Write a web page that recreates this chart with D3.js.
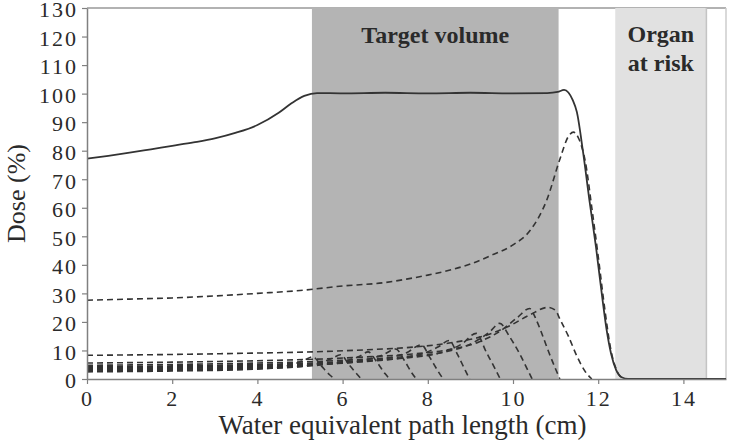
<!DOCTYPE html>
<html>
<head>
<meta charset="utf-8">
<script src="https://d3js.org/d3.v7.min.js"></script>
<style>
    body { margin: 0; background: #fff; }
</style>
</head>
<body>
<svg id="chart" width="734" height="445"></svg>
<script>
    // axis ticks
    const xTicks = [0, 2, 4, 6, 8, 10, 12, 14];
    const yTicks = [0, 10, 20, 30, 40, 50, 60, 70, 80, 90, 100, 110, 120, 130];

    // shaded regions (cm)
    const bandNames = ["Target volume", "Organ at risk"];
    const bandStart = [5.28, 12.4];
    const bandEnd = [11.07, 14.54];

    // total spread-out dose (solid)
    const sobp = [[0,77.2],[0.5,78.2],[1,79.3],[1.5,80.5],[2,81.7],[2.5,82.9],[3,84.3],[3.5,86.3],[4,89],
        [4.5,93.3],[4.8,96.6],[5.1,99.2],[5.4,100.2],[6,100.1],[7,100.3],[8,100.1],[9,100.3],[10,100.1],
        [10.8,100.2],[11.05,100.6],[11.2,101.3],[11.3,100.4],[11.4,97.8],[11.5,93.5],[11.64,80],[11.8,62],
        [11.95,46],[12.1,28],[12.2,17],[12.3,9],[12.42,3.2],[12.55,0.6],[12.7,0],[15,0]];

    // individual pristine peaks (dashed), deepest first
    const peak1 = [[0,27.6],[1,28],[2,28.4],[3,29.1],[4,30],[5,31],[6,32.6],[7,33.8],[7.5,35],[8,36.4],
        [8.5,38.1],[9,40.3],[9.5,43.4],[10,47],[10.4,52],[10.8,63],[11.1,77],[11.3,85],[11.42,86.5],
        [11.55,84],[11.7,76],[11.85,60],[12,43],[12.15,25],[12.3,10],[12.45,2.5],[12.6,0]];
    const peak2 = [[0,8.3],[2,8.6],[4,9.1],[5.3,9.5],[6.5,10.2],[7.5,11],[8.5,12.6],[9.3,15],[9.9,18.5],
        [10.4,22.5],[10.82,25.1],[11,24],[11.1,21],[11.3,15],[11.5,8],[11.7,2.5],[11.85,0]];
    const peak3 = [[0,5.6],[2,5.9],[4,6.4],[5.3,6.9],[6.5,7.7],[7.5,8.6],[8.5,10.3],[9.2,13],[9.7,16.8],
        [10.1,21.5],[10.39,24.7],[10.55,20.6],[10.7,15],[10.85,9],[11,3.5],[11.1,0]];
    const peak4 = [[0,4.8],[2,5.1],[4,5.6],[5.3,6.1],[6.5,6.9],[7.5,7.9],[8.5,9.8],[9.1,13],[9.45,16.5],
        [9.69,19.5],[9.92,14.8],[10.15,9],[10.35,3],[10.45,0]];
    const peak5 = [[0,4.3],[2,4.6],[4,5.1],[5.3,5.6],[6.5,6.4],[7.5,7.4],[8.3,9.2],[8.8,12.3],[9.14,16],
        [9.37,9.5],[9.6,3],[9.7,0]];
    const peak6 = [[0,4],[2,4.3],[4,4.8],[5.3,5.3],[6.5,6.1],[7.3,7.2],[7.9,9],[8.25,11.3],[8.5,13.5],
        [8.7,8.5],[8.88,3],[8.98,0]];
    const peak7 = [[0,3.7],[2,4],[4,4.5],[5.3,5],[6.3,5.9],[7,7.2],[7.5,9.2],[7.85,12],[8.05,7.5],
        [8.25,2.5],[8.36,0]];
    const peak8 = [[0,3.4],[2,3.7],[4,4.2],[5,4.7],[5.9,5.5],[6.5,6.6],[6.95,8.5],[7.25,10.5],[7.45,6.5],
        [7.63,2],[7.73,0]];
    const peak9 = [[0,3.1],[2,3.4],[4,3.9],[5,4.4],[5.6,5.1],[6.1,6.4],[6.4,8],[6.6,9.5],[6.8,6],
        [7,1.8],[7.1,0]];
    const peak10 = [[0,2.8],[2,3.1],[4,3.6],[4.9,4.2],[5.4,5.3],[5.75,7.2],[5.95,8.5],[6.15,5],
        [6.35,1.5],[6.44,0]];
    const peak11 = [[0,2.5],[2,2.8],[3.5,3.2],[4.3,3.8],[4.8,5],[5.1,6.6],[5.3,7.8],[5.5,4.6],
        [5.7,1.4],[5.82,0]];
    const peaks = [peak1, peak2, peak3, peak4, peak5, peak6, peak7, peak8, peak9, peak10, peak11];

    const serif = "'Liberation Serif', 'DejaVu Serif', serif";
    const ink = "#2a2a2a";

    const svg = d3.select("#chart");
    const plotLeft = 87, plotRight = 726, plotTop = 8, plotBottom = 379;

    const x = d3.scaleLinear().domain([0, 15]).range([plotLeft, plotRight]);
    const y = d3.scaleLinear().domain([0, 130]).range([plotBottom, plotTop]);

    // frame (top and right edges)
    svg.append("line").attr("x1", plotLeft).attr("x2", plotRight).attr("y1", plotTop).attr("y2", plotTop)
        .attr("stroke", "#999").attr("stroke-width", 1.5);
    svg.append("line").attr("x1", plotRight).attr("x2", plotRight).attr("y1", plotTop).attr("y2", plotBottom)
        .attr("stroke", "#ccc").attr("stroke-width", 1.5);

    // bands
    const bandFill = ["#b4b4b4", "#e1e1e1"];
    svg.selectAll("rect.band").data(bandNames).enter().append("rect")
        .attr("class", "band")
        .attr("x", (d, i) => x(bandStart[i]))
        .attr("width", (d, i) => x(bandEnd[i]) - x(bandStart[i]))
        .attr("y", plotTop)
        .attr("height", plotBottom - plotTop)
        .attr("fill", (d, i) => bandFill[i]);
    svg.append("line").attr("x1", x(bandEnd[1])).attr("x2", x(bandEnd[1])).attr("y1", plotTop).attr("y2", plotBottom)
        .attr("stroke", "#c4c4c4").attr("stroke-width", 1.5);

    // band labels
    svg.append("text")
        .attr("x", (x(bandStart[0]) + x(bandEnd[0])) / 2).attr("y", 43)
        .attr("text-anchor", "middle")
        .style("font-family", serif).style("font-size", "24px").style("font-weight", "bold")
        .attr("fill", ink)
        .text(bandNames[0]);
    const organX = (x(bandStart[1]) + x(bandEnd[1])) / 2;
    const organLabel = svg.append("text")
        .attr("x", organX).attr("y", 42)
        .attr("text-anchor", "middle")
        .style("font-family", serif).style("font-size", "24px").style("font-weight", "bold")
        .attr("fill", ink);
    organLabel.append("tspan").attr("x", organX).text("Organ");
    organLabel.append("tspan").attr("x", organX).attr("dy", 29).text("at risk");

    // curves
    const line = d3.line()
        .x(d => x(d[0]))
        .y(d => y(d[1]))
        .curve(d3.curveMonotoneX);

    svg.selectAll("path.peak").data(peaks).enter().append("path")
        .attr("class", "peak")
        .attr("d", line)
        .attr("fill", "none")
        .attr("stroke", "#333")
        .attr("stroke-width", 1.6)
        .attr("stroke-dasharray", "6,4");

    svg.append("path").datum(sobp)
        .attr("d", line)
        .attr("fill", "none")
        .attr("stroke", "#333")
        .attr("stroke-width", 1.8);

    // axes
    const xAxis = svg.append("g").attr("transform", `translate(0,${plotBottom})`)
        .call(d3.axisBottom(x).tickValues(xTicks).tickSize(5).tickSizeOuter(0).tickPadding(6));
    const yAxis = svg.append("g").attr("transform", `translate(${plotLeft},0)`)
        .call(d3.axisLeft(y).tickValues(yTicks).tickSize(5).tickSizeOuter(0).tickPadding(4));

    [xAxis, yAxis].forEach(g => {
        g.select(".domain").attr("stroke", "#808080").attr("stroke-width", 1.5);
        g.selectAll(".tick line").attr("stroke", "#808080").attr("stroke-width", 1.2);
        g.selectAll(".tick text")
            .attr("fill", ink)
            .style("font-family", serif)
            .style("font-size", "22px")
            .style("letter-spacing", "2px");
    });
    xAxis.selectAll(".tick text").attr("dy", "0.71em");
    yAxis.selectAll(".tick text").attr("dy", "0.4em");

    // axis titles
    svg.append("text")
        .attr("x", (plotLeft + plotRight) / 2 - 4).attr("y", 434)
        .attr("text-anchor", "middle")
        .style("font-family", serif).style("font-size", "27px")
        .attr("fill", ink)
        .text("Water equivalent path length (cm)");
    svg.append("text")
        .attr("transform", `translate(25,${(plotTop + plotBottom) / 2}) rotate(-90)`)
        .attr("text-anchor", "middle")
        .style("font-family", serif).style("font-size", "26px")
        .attr("fill", ink)
        .text("Dose (%)");
</script>
</body>
</html>
